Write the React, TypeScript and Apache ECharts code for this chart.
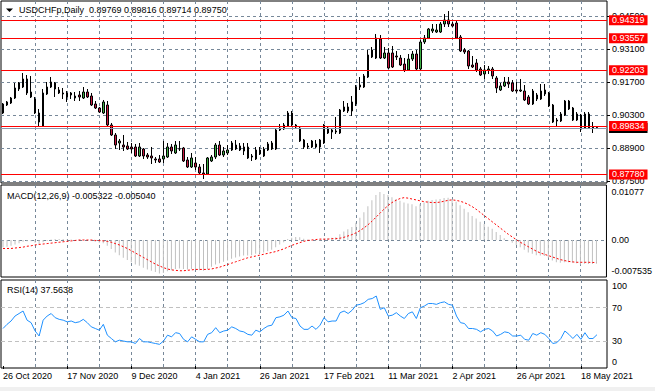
import { useEffect, useRef } from 'react';
import * as echarts from 'echarts';

const FONT = '"Liberation Sans", Arial, sans-serif';
const GRID_COLOR = '#778899';
const BULL = '#3cb043';
const BEAR = '#c8173f';

const SYMBOL = 'USDCHFp,Daily';
const HOLIDAYS = ['2020-12-25', '2021-01-01'];
const SLOT_COUNT = 151;
const MONTHS = ['Jan', 'Feb', 'Mar', 'Apr', 'May', 'Jun', 'Jul', 'Aug', 'Sep', 'Oct', 'Nov', 'Dec'];

const PRICE_TICKS = [0.875, 0.889, 0.903, 0.917, 0.931, 0.945];
const LEVELS = [0.94319, 0.93557, 0.92203, 0.89834, 0.8778];
const BID = 0.8975;
const MACD_TICKS = [-0.007535, 0, 0.01077];
const MACD_TICK_TEXT = ['-0.007535', '0.00', '0.01077'];
const RSI_TICKS = [0, 30, 70, 100];
const RSI_LEVELS = [30, 70];

const OPEN = [0.90385,0.90724,0.90809,0.91021,0.91403,0.91488,0.91828,0.91276,0.90979,0.90385,
0.89833,0.91191,0.91488,0.91658,0.91361,0.91234,0.91234,0.91234,0.91106,0.91149,
0.91021,0.91276,0.91106,0.90767,0.90597,0.90385,0.90724,0.89876,0.89452,0.89112,
0.89027,0.88985,0.88943,0.88943,0.88561,0.88858,0.88603,0.88561,0.88434,0.88434,
0.88434,0.88518,0.88943,0.88688,0.88870,0.88900,0.88391,0.88094,0.88264,0.88094,
0.87840,0.87797,0.88349,0.88518,0.89027,0.88603,0.88688,0.88815,0.88858,0.88985,
0.88943,0.88943,0.88561,0.88434,0.88815,0.88561,0.88815,0.88858,0.88858,0.89664,
0.89706,0.89833,0.90385,0.89876,0.89749,0.89240,0.88985,0.88943,0.89070,0.88943,
0.89112,0.89749,0.89664,0.89621,0.89536,0.90470,0.90640,0.90470,0.90767,0.91488,
0.91488,0.91912,0.92761,0.92718,0.93524,0.92718,0.92931,0.92931,0.92803,0.92718,
0.92464,0.92209,0.92676,0.92888,0.92252,0.93397,0.93567,0.93864,0.93821,0.93821,
0.94161,0.94331,0.94161,0.94203,0.93609,0.93058,0.93015,0.92421,0.92506,0.92252,
0.92040,0.92209,0.92252,0.91870,0.91361,0.91531,0.91700,0.91658,0.91361,0.91318,
0.91318,0.91064,0.90767,0.90979,0.90979,0.91361,0.91234,0.90724,0.90088,0.90046,
0.90300,0.90894,0.90597,0.90088,0.90300,0.89749,0.90343,0.89791,0.89769];

const HIGH = [0.90809,0.90894,0.91064,0.91658,0.91700,0.92082,0.91997,0.91955,0.91064,0.90555,
0.91403,0.91700,0.91912,0.91700,0.91488,0.91446,0.91318,0.91276,0.91276,0.91318,
0.91488,0.91403,0.91234,0.90894,0.90640,0.90937,0.90894,0.89961,0.89536,0.89282,
0.89452,0.89155,0.89112,0.89070,0.89112,0.88900,0.88688,0.88943,0.88518,0.88603,
0.89197,0.89112,0.89070,0.89197,0.89197,0.88943,0.88518,0.88688,0.88518,0.88221,
0.88221,0.88518,0.88603,0.89112,0.89197,0.88943,0.89027,0.89197,0.89240,0.89112,
0.89112,0.89112,0.88646,0.88943,0.88943,0.88943,0.89155,0.89197,0.89706,0.89918,
0.89961,0.90470,0.90470,0.89918,0.89833,0.89282,0.89112,0.89240,0.89240,0.89282,
0.89918,0.89833,0.89749,0.90215,0.90555,0.90894,0.90809,0.91106,0.91573,0.91912,
0.92040,0.93058,0.93185,0.93737,0.93694,0.93185,0.93143,0.93228,0.93015,0.92846,
0.92718,0.92888,0.93015,0.93058,0.93482,0.93694,0.93991,0.94161,0.94161,0.94246,
0.94585,0.94712,0.94246,0.94288,0.93694,0.93143,0.93058,0.92803,0.92676,0.92337,
0.92421,0.92379,0.92337,0.91955,0.91658,0.91912,0.91912,0.91785,0.91700,0.91828,
0.91573,0.91149,0.91403,0.91234,0.91615,0.91615,0.91276,0.90767,0.90173,0.90427,
0.90937,0.90937,0.90640,0.90427,0.90343,0.90427,0.90427,0.90003,0.89816];

const LOW = [0.90343,0.90682,0.90767,0.90979,0.91318,0.91446,0.91149,0.91021,0.90343,0.89833,
0.89791,0.91149,0.91446,0.91064,0.91191,0.90979,0.90852,0.90979,0.90894,0.90894,
0.90979,0.91021,0.90682,0.90555,0.90385,0.90343,0.89833,0.89409,0.88858,0.88815,
0.88773,0.88815,0.88688,0.88518,0.88518,0.88434,0.88434,0.88221,0.88264,0.88264,
0.88264,0.88476,0.88646,0.88646,0.88773,0.88306,0.88052,0.88052,0.87967,0.87755,
0.87585,0.87755,0.88306,0.88434,0.88561,0.88518,0.88603,0.88773,0.88815,0.88773,
0.88603,0.88434,0.88349,0.88391,0.88603,0.88518,0.88773,0.88815,0.88815,0.89621,
0.89664,0.89791,0.89791,0.89706,0.89155,0.88858,0.88858,0.88900,0.88900,0.88688,
0.89070,0.89494,0.89282,0.89494,0.89494,0.90427,0.90385,0.90258,0.90682,0.91361,
0.91446,0.91870,0.92718,0.92676,0.92676,0.92676,0.92252,0.92294,0.92634,0.92379,
0.92125,0.92167,0.92591,0.92209,0.92209,0.93312,0.93524,0.93779,0.93779,0.93779,
0.94034,0.94034,0.94034,0.93524,0.92973,0.92888,0.92252,0.92294,0.92125,0.91955,
0.91828,0.92040,0.91828,0.91234,0.91318,0.91488,0.91446,0.91276,0.91234,0.91276,
0.90894,0.90724,0.90724,0.90894,0.90937,0.91106,0.90640,0.89961,0.89833,0.90003,
0.90258,0.90512,0.90046,0.90046,0.89579,0.89706,0.89706,0.89536,0.89714];

const CLOSE = [0.90767,0.90852,0.91021,0.91446,0.91658,0.91828,0.91234,0.91064,0.90385,0.90003,
0.91234,0.91488,0.91700,0.91403,0.91234,0.91191,0.91064,0.91149,0.91021,0.91064,
0.91276,0.91064,0.90724,0.90597,0.90427,0.90852,0.89876,0.89452,0.89027,0.89197,
0.88943,0.88858,0.88858,0.88561,0.88943,0.88561,0.88518,0.88476,0.88391,0.88306,
0.88561,0.88943,0.88773,0.89027,0.88858,0.88349,0.88094,0.88476,0.88094,0.87840,
0.87797,0.88476,0.88518,0.89027,0.88603,0.88773,0.88815,0.89112,0.89027,0.88815,
0.88773,0.88476,0.88518,0.88815,0.88646,0.88858,0.89070,0.89112,0.89664,0.89749,
0.89876,0.90385,0.89876,0.89791,0.89197,0.88943,0.88943,0.89197,0.88943,0.89240,
0.89876,0.89536,0.89579,0.89579,0.90512,0.90640,0.90470,0.90852,0.91488,0.91573,
0.91955,0.92846,0.93058,0.93567,0.92718,0.92931,0.92294,0.92337,0.92761,0.92421,
0.92209,0.92676,0.92888,0.92252,0.93397,0.93567,0.93949,0.93949,0.93906,0.94161,
0.94331,0.94161,0.94076,0.93567,0.93015,0.92973,0.92379,0.92337,0.92209,0.91997,
0.92209,0.92252,0.91955,0.91446,0.91531,0.91700,0.91615,0.91318,0.91318,0.91361,
0.90937,0.90767,0.91318,0.91149,0.91318,0.91191,0.90682,0.90003,0.90046,0.90343,
0.90894,0.90555,0.90088,0.90343,0.89749,0.90343,0.89749,0.89749,0.89750];

const MACD_MAIN = [-0.0016,-0.0015,-0.0013,-0.0010,-0.0007,-0.0004,-0.0003,-0.0003,-0.0006,
-0.0009,-0.0005,-0.0002,0.0001,0.0002,0.0002,0.0002,0.0001,
0.0001,0.0000,0.0000,0.0000,0.0000,-0.0002,-0.0004,-0.0006,
-0.0007,-0.0013,-0.0020,-0.0028,-0.0034,-0.0040,-0.0045,-0.0050,
-0.0055,-0.0058,-0.0062,-0.0066,-0.0069,-0.0072,-0.0075,-0.0074,
-0.0070,-0.0068,-0.0065,-0.0064,-0.0065,-0.0066,-0.0065,-0.0066,
-0.0068,-0.0069,-0.0065,-0.0060,-0.0055,-0.0052,-0.0049,-0.0046,
-0.0042,-0.0039,-0.0037,-0.0035,-0.0035,-0.0034,-0.0031,-0.0030,
-0.0028,-0.0025,-0.0022,-0.0016,-0.0010,-0.0005,0.0002,0.0005,
0.0007,0.0006,0.0003,0.0001,0.0000,-0.0001,-0.0001,0.0003,
0.0004,0.0005,0.0006,0.0013,0.0019,0.0024,0.0029,0.0039,
0.0050,0.0062,0.0076,0.0089,0.0101,0.01077,0.0103,0.0101,
0.0096,0.0092,0.0088,0.0084,0.0082,0.0080,0.0076,0.0080,
0.0084,0.0088,0.0090,0.0091,0.0092,0.0094,0.0095,0.0092,
0.0086,0.0078,0.0070,0.0062,0.0054,0.0048,0.0041,0.0036,
0.0030,0.0025,0.0018,0.0011,0.0004,-0.0001,-0.0006,-0.0011,
-0.0016,-0.0022,-0.0028,-0.0031,-0.0034,-0.0035,-0.0036,-0.0040,
-0.0046,-0.0050,-0.0051,-0.0050,-0.0050,-0.0051,-0.0052,-0.0055,
-0.0053,-0.0054,-0.0054,-0.005322];

const MACD_SIGNAL = [-0.0019,-0.0019,-0.0019,-0.0018,-0.0017,-0.0016,-0.0014,-0.0013,-0.0011,
-0.0010,-0.0009,-0.0008,-0.0007,-0.0006,-0.0005,-0.0004,-0.0003,
-0.0002,-0.0001,0.0000,0.0000,0.0000,0.0000,-0.0001,-0.0001,
-0.0002,-0.0003,-0.0005,-0.0008,-0.0011,-0.0015,-0.0019,-0.0024,
-0.0029,-0.0034,-0.0039,-0.0044,-0.0049,-0.0054,-0.0058,-0.0062,
-0.0065,-0.0067,-0.0068,-0.0069,-0.0069,-0.0068,-0.0067,-0.0066,
-0.0066,-0.0066,-0.0066,-0.0065,-0.0063,-0.0061,-0.0058,-0.0055,
-0.0052,-0.0049,-0.0046,-0.0043,-0.0040,-0.0038,-0.0036,-0.0034,
-0.0032,-0.0030,-0.0028,-0.0026,-0.0023,-0.0020,-0.0016,-0.0012,
-0.0009,-0.0006,-0.0003,-0.0001,0.0000,0.0001,0.0002,0.0002,
0.0002,0.0003,0.0003,0.0004,0.0006,0.0009,0.0012,0.0016,
0.0021,0.0027,0.0034,0.0042,0.0051,0.0060,0.0069,0.0077,
0.0084,0.0089,0.0093,0.0095,0.0094,0.0092,0.0090,0.0088,
0.0086,0.0085,0.0084,0.0084,0.0085,0.0087,0.0089,0.0090,
0.0089,0.0087,0.0084,0.0080,0.0075,0.0069,0.0062,0.0055,
0.0048,0.0041,0.0034,0.0027,0.0020,0.0013,0.0007,0.0001,
-0.0005,-0.0010,-0.0015,-0.0020,-0.0025,-0.0029,-0.0032,-0.0035,
-0.0038,-0.0041,-0.0044,-0.0046,-0.0048,-0.0049,-0.0050,-0.0050,
-0.0050,-0.0050,-0.00504,-0.005040];

const RSI = [45,50,54,60,63,66,55,52,42,36,
55,60,63,58,56,55,53,54,52,53,
56,52,47,45,43,50,37,33,29,31,
30,29,29,27,33,29,29,28,27,26,
30,37,35,40,39,32,29,35,32,29,
29,38,40,46,40,42,43,47,45,42,
41,38,37,43,41,45,48,49,58,59,
61,66,58,57,48,44,44,48,44,49,
58,53,54,54,64,66,63,67,73,74,
76,80,81,84,68,70,60,61,64,60,
57,63,65,57,70,72,75,75,74,76,
77,74,73,60,52,51,45,45,44,41,
44,45,42,36,38,41,40,36,36,37,
32,31,39,37,40,38,33,27,28,33,
42,38,33,38,32,40,33,33,37.5638];

function tradingDays(count: number): string[] {
  const out: string[] = [];
  const d = new Date(Date.UTC(2020, 9, 26));
  while (out.length < count) {
    const wd = d.getUTCDay();
    const iso = d.toISOString().slice(0, 10);
    if (wd !== 0 && wd !== 6 && !HOLIDAYS.includes(iso)) {
      out.push(`${d.getUTCDate()} ${MONTHS[d.getUTCMonth()]} ${d.getUTCFullYear()}`);
    }
    d.setUTCDate(d.getUTCDate() + 1);
  }
  return out;
}

export default function App() {
  const ref = useRef<HTMLDivElement>(null);
  useEffect(() => {
    if (!ref.current) return;
    const chart = echarts.init(ref.current, null, { renderer: 'svg' });
    const dates = tradingDays(SLOT_COUNT);
    const candles = OPEN.map((o, i) => [o, CLOSE[i], LOW[i], HIGH[i]]);
    const last = OPEN.length - 1;
    const header = `${SYMBOL}  ${OPEN[last].toFixed(5)} ${HIGH[last].toFixed(5)} ${LOW[last].toFixed(5)} ${CLOSE[last].toFixed(5)}`;
    const macdTitle = `MACD(12,26,9) ${MACD_MAIN[last].toFixed(6)} ${MACD_SIGNAL[last].toFixed(6)}`;
    const rsiTitle = `RSI(14) ${RSI[last].toFixed(4)}`;
    const labelBase = { color: '#000', fontSize: 9, fontFamily: FONT };
    const dash = { color: GRID_COLOR, type: [3, 3] as number[], width: 1 };

    const xAxes = [0, 1, 2].map((g) => ({
      type: 'category',
      gridIndex: g,
      data: dates,
      boundaryGap: true,
      axisLine: { show: false },
      axisTick: g === 2
        ? { show: true, interval: (i: number) => i % 16 === 0, alignWithLabel: true, length: 3, lineStyle: { color: '#000' } }
        : { show: false },
      axisLabel: g === 2
        ? { show: true, interval: (i: number) => i % 16 === 0, align: 'left', margin: 3, ...labelBase }
        : { show: false },
      splitLine: { show: true, interval: (i: number) => i > 0 && i % 8 === 0, alignWithLabel: true, lineStyle: dash },
    }));

    chart.setOption({
      animation: false,
      backgroundColor: '#fff',
      grid: [
        { left: 1, top: 1, width: 606, height: 182, show: true, borderColor: '#000', borderWidth: 1 },
        { left: 1, top: 185, width: 606, height: 92, show: true, borderColor: '#000', borderWidth: 1 },
        { left: 1, top: 280, width: 606, height: 88, show: true, borderColor: '#000', borderWidth: 1 },
      ],
      xAxis: xAxes,
      yAxis: [
        {
          type: 'value', gridIndex: 0, position: 'right', min: 0.87415, max: 0.95137,
          axisLine: { show: false },
          axisTick: { show: true, customValues: PRICE_TICKS, length: 3, lineStyle: { color: '#000' } },
          axisLabel: { customValues: PRICE_TICKS, formatter: (v: number) => v.toFixed(5), margin: 5, ...labelBase },
          splitLine: { show: true, lineStyle: dash },
        },
        {
          type: 'value', gridIndex: 1, position: 'right', min: -0.0083, max: 0.012342,
          axisLine: { show: false },
          axisTick: { show: false, customValues: [0] },
          axisLabel: {
            customValues: MACD_TICKS,
            formatter: (v: number) => {
              const k = MACD_TICKS.findIndex((t) => Math.abs(t - v) < 1e-9);
              return k >= 0 ? (k === 0 ? `{b|${MACD_TICK_TEXT[k]}}` : MACD_TICK_TEXT[k]) : '';
            },
            rich: { b: { padding: [0, 0, 5, 0], ...labelBase } },
            margin: 5, ...labelBase,
          },
          splitLine: { show: true, lineStyle: dash },
        },
        {
          type: 'value', gridIndex: 2, position: 'right', min: -2.4, max: 103.24,
          axisLine: { show: false },
          axisTick: { show: false, customValues: RSI_LEVELS },
          axisLabel: {
            customValues: RSI_TICKS,
            formatter: (v: number) => (v === 100 ? '{t|100}' : v === 0 ? '{b|0}' : String(v)),
            rich: {
              t: { padding: [7, 0, 0, 0], ...labelBase },
              b: { padding: [0, 0, 9, 0], ...labelBase },
            },
            margin: 5, ...labelBase,
          },
          splitLine: { show: true, lineStyle: { color: '#c0c0c0', type: [4, 3], width: 1 } },
        },
      ],
      series: [
        {
          type: 'candlestick',
          xAxisIndex: 0, yAxisIndex: 0,
          data: candles,
          barWidth: 2,
          itemStyle: { color: BULL, color0: BEAR, borderColor: '#000', borderColor0: '#000', borderWidth: 1 },
          markLine: {
            symbol: ['none', 'none'],
            silent: true,
            animation: false,
            precision: 5,
            lineStyle: { color: '#ff0000', width: 1, type: 'solid' },
            label: {
              show: true, position: 'end', distance: 2,
              formatter: (p: any) => Number(p.value).toFixed(5),
              color: '#fff', backgroundColor: '#ff0000', fontSize: 9, fontFamily: FONT,
              padding: [1, 3, 0, 3], lineHeight: 9,
            },
            data: [
              { yAxis: BID, lineStyle: { color: '#8a99ad' }, label: { backgroundColor: '#000' } },
              ...LEVELS.map((v) => ({ yAxis: v })),
            ],
          },
        },
        {
          type: 'bar', xAxisIndex: 1, yAxisIndex: 1, data: MACD_MAIN, barWidth: 1,
          itemStyle: { color: '#c0c0c0' },
        },
        {
          type: 'line', xAxisIndex: 1, yAxisIndex: 1, data: MACD_SIGNAL, showSymbol: false,
          lineStyle: { color: '#ff0000', width: 1, type: [2, 2] },
        },
        {
          type: 'line', xAxisIndex: 2, yAxisIndex: 2, data: RSI, showSymbol: false,
          lineStyle: { color: '#1e90ff', width: 1 },
        },
      ],
      graphic: [
        { type: 'polygon', shape: { points: [[6, 8.5], [13, 8.5], [9.5, 12]] }, style: { fill: '#000' } },
        { type: 'text', x: 19, y: 10, style: { text: header, fill: '#000', fontSize: 9, fontFamily: FONT, verticalAlign: 'middle' } },
        { type: 'text', x: 7, y: 196, style: { text: macdTitle, fill: '#000', fontSize: 9, fontFamily: FONT, verticalAlign: 'middle' } },
        { type: 'text', x: 7, y: 290, style: { text: rsiTitle, fill: '#000', fontSize: 9, fontFamily: FONT, verticalAlign: 'middle' } },
        { type: 'rect', shape: { x: 0, y: 387, width: 655, height: 4 }, style: { fill: '#f0f0f0' } },
      ],
    });
    return () => chart.dispose();
  }, []);
  return <div ref={ref} style={{ position: 'fixed', left: 0, top: 0, width: 655, height: 391 }} />;
}
